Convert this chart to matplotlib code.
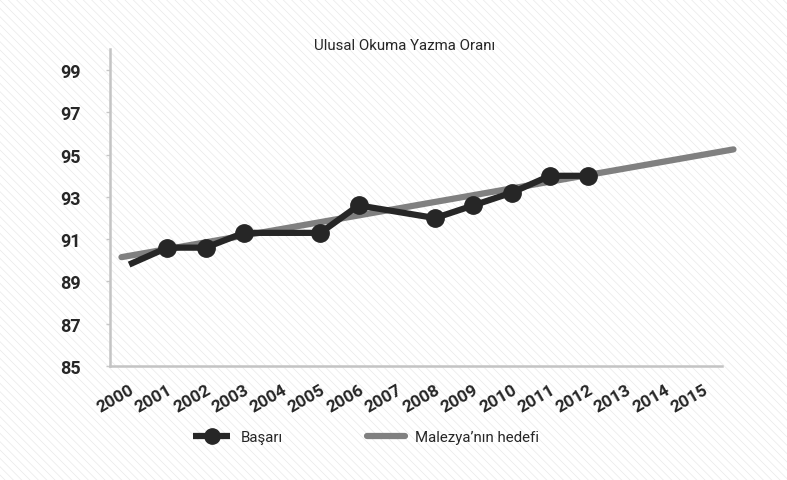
import matplotlib
matplotlib.use("Agg")
import matplotlib.pyplot as plt
from matplotlib.patches import Rectangle

# Data
years = [2000, 2001, 2002, 2003, 2005, 2006, 2008, 2009, 2010, 2011, 2012]
achievement = [89.8, 90.6, 90.6, 91.3, 91.3, 92.6, 92.0, 92.6, 93.2, 94.0, 94.0]
target_years = [1999.8, 2015.8]
target_values = [90.15, 95.25]
tick_years = list(range(2000, 2016))
y_ticks = [85, 87, 89, 91, 93, 95, 97, 99]

title = "Ulusal Okuma Yazma Oranı"
label_achievement = "Başarı"
label_target = "Malezya\u2019nın hedefi"

plt.rcParams['font.family'] = ['Roboto', 'DejaVu Sans']
plt.rcParams['hatch.color'] = '#e9e9e9'
plt.rcParams['hatch.linewidth'] = 0.5

fig = plt.figure(figsize=(7.87, 4.81), dpi=100)
fig.patch.set_facecolor('white')
bg = Rectangle((0, 0), 1, 1, transform=fig.transFigure, facecolor='white',
               edgecolor='#e9e9e9', hatch='\\\\\\\\', linewidth=0, zorder=-10)
fig.patches.append(bg)

ax = fig.add_axes([110/787, 1-367/481, (722-110)/787, (367-50)/481])
ax.patch.set_alpha(0)

ax.plot(target_years, target_values, color='#808080', lw=4.5,
        solid_capstyle='round', clip_on=False, zorder=2, label=label_target)
ax.plot(years, achievement, color='#262626', lw=4.5, marker='o', ms=12.5,
        markevery=list(range(1, len(years))), solid_capstyle='butt',
        zorder=3, label=label_achievement)

ax.set_xlim(1999.5, 2015.5)
ax.set_ylim(85, 100)
ax.set_yticks(y_ticks)
ax.set_yticklabels([str(v) for v in y_ticks], fontsize=13, fontweight='bold',
                   color='#262626')
ax.set_xticks(tick_years)
ax.set_xticklabels([str(y) for y in tick_years], rotation=30, ha='right',
                   rotation_mode='anchor', fontsize=12.5, fontweight='bold',
                   color='#262626')
ax.tick_params(axis='x', length=0, pad=11)
ax.tick_params(axis='y', length=3, color='#c8c8c8', width=1, pad=18)
for s in ['top', 'right']:
    ax.spines[s].set_visible(False)
for s in ['left', 'bottom']:
    ax.spines[s].set_color('#c4c4c4')
    ax.spines[s].set_linewidth(1.8)

fig.text(405/787, 1-46/481, title, ha='center', va='center', fontsize=10.8,
         color='#262626')

handles, labels = ax.get_legend_handles_labels()
handles[1].set_markersize(11)
leg = fig.legend([handles[1], handles[0]], [labels[1], labels[0]], loc='center',
                 bbox_to_anchor=(366/787, 1-438/481), ncol=2, frameon=False,
                 fontsize=10.8, columnspacing=5.6, handlelength=2.5,
                 handletextpad=0.7)
handles[1].set_markersize(12.5)
for t in leg.get_texts():
    t.set_color('#262626')

fig.savefig('out.png', dpi=100)
